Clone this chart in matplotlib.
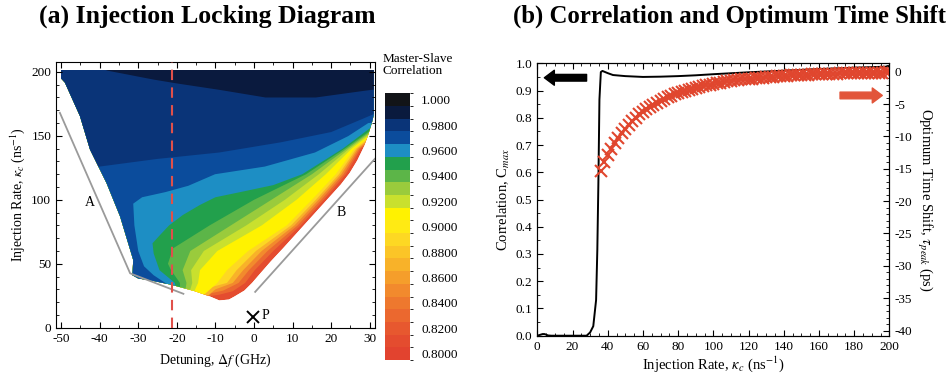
import matplotlib
matplotlib.use('Agg')
import matplotlib.pyplot as plt
from matplotlib.patches import Polygon
from matplotlib.colors import ListedColormap, BoundaryNorm
from matplotlib.cm import ScalarMappable
import matplotlib.ticker as mticker

plt.rcParams['font.family'] = ['Liberation Serif', 'DejaVu Serif']
plt.rcParams['mathtext.fontset'] = 'stix'
plt.rcParams['axes.unicode_minus'] = False

# ---------------- colour scale (master-slave correlation) ----------------
scale_values = [0.80, 0.81, 0.82, 0.83, 0.84, 0.85, 0.86, 0.87, 0.88, 0.89, 0.90,
                0.91, 0.92, 0.93, 0.94, 0.95, 0.96, 0.97, 0.98, 0.99, 1.00]
scale_colors = ['#e2432f', '#e44c2f', '#e7582f', '#eb682f', '#ee782e', '#f28a2d',
                '#f59e2b', '#f8b229', '#fbc527', '#fdd823', '#ffea14', '#fff200',
                '#c9e02e', '#9acb3c', '#5cb548', '#22a04c', '#1d8ec4', '#0b4c9c',
                '#0a3478', '#0a1a3e', '#121418']
cbar_ticks = [0.80, 0.82, 0.84, 0.86, 0.88, 0.90, 0.92, 0.94, 0.96, 0.98, 1.00]
cbar_labels = ['0.8000', '0.8200', '0.8400', '0.8600', '0.8800', '0.9000',
               '0.9200', '0.9400', '0.9600', '0.9800', '1.000']

# ---------------- panel (a): locking region (detuning GHz, kappa ns^-1) ----------------
lock_region = [(-50, 201.5), (31, 201.5), (31, 166), (30.6, 161), (29.6, 151), (28.4, 141),
               (26.8, 131), (24.8, 121), (22.5, 112), (19.5, 102), (16.5, 92), (13.5, 82),
               (10.5, 72), (7.5, 62), (4.4, 52), (1.5, 42), (-0.5, 35), (-2.5, 29),
               (-5, 24.5), (-6.5, 22), (-9, 21.3), (-11.5, 24.5), (-15.3, 28.5),
               (-21.3, 33.5), (-26, 36.5), (-30, 38.5), (-31.5, 41), (-31.3, 53),
               (-32.6, 66), (-34.7, 87), (-38.2, 113), (-42.5, 139.4), (-45.1, 165.5),
               (-49, 191.7), (-50, 195)]

# correlation value of each band, lowest first
band_values = [0.81, 0.83, 0.85, 0.87, 0.89, 0.91, 0.92, 0.93, 0.94, 0.95, 0.96, 0.97, 0.98, 0.99]

# lower edge of every band above the first one (from right side round to bottom / left)
band_edges = [
    [(40, 150), (31, 148), (27.7, 140), (23.8, 120), (18.1, 100), (12.1, 80), (5.0, 60),
     (0.2, 45), (-2.3, 35), (-5.5, 28.5), (-9, 25.8), (-12, 24.5), (-15, 15)],
    [(40, 151), (31, 149), (27.3, 140), (23.2, 120), (17.4, 100), (11.3, 80), (3.5, 60),
     (-1.3, 45), (-4, 35), (-8, 29), (-11, 27), (-15.5, 15)],
    [(40, 152), (31, 150), (26.9, 140), (22.6, 120), (16.7, 100), (10.5, 80), (2.0, 60),
     (-2.8, 45), (-5.5, 35), (-10, 30), (-16, 15)],
    [(40, 153), (31, 151), (26.5, 140), (22.0, 120), (16.0, 100), (9.6, 80), (0.5, 60),
     (-4.5, 45), (-7, 35), (-12, 31), (-16.5, 15)],
    [(40, 154), (31, 152), (26.0, 140), (21.2, 120), (15.0, 100), (8.5, 80), (-1.5, 60),
     (-7, 45), (-9.5, 35), (-17, 15)],
    [(40, 155), (31, 153), (25.3, 140), (18.6, 120), (11.0, 100), (2.0, 80), (-9.5, 60),
     (-14, 45), (-14.5, 35), (-17.5, 15)],
    [(40, 156), (31, 154), (24.7, 140), (16.8, 120), (8.0, 100), (-2.0, 80), (-13, 60),
     (-16.3, 45), (-16, 35), (-18, 15)],
    [(40, 157), (31, 155), (24.1, 140), (15.0, 120), (4.5, 100), (-6, 80), (-16.5, 60),
     (-18.5, 45), (-17.5, 35), (-18.5, 15)],
    [(40, 158), (31, 156), (23.5, 140), (13.5, 120), (0, 100), (-11.5, 80), (-21, 62),
     (-22.3, 50), (-21.5, 45), (-19.2, 35), (-19, 15)],
    [(40, 160), (31, 158), (29.6, 155), (23.0, 140), (12.5, 120), (5, 111.5), (-3.6, 106),
     (-10, 102), (-14, 96), (-18.5, 88), (-22, 80), (-24.5, 72), (-26.3, 66), (-26, 58),
     (-24.5, 45), (-20.5, 35), (-19.5, 15)],
    [(40, 163), (29.6, 160), (24.4, 149.8), (15.8, 137), (2.8, 126), (-10.1, 120), (-17, 111),
     (-23, 106), (-29, 102), (-31.3, 97), (-31, 80), (-30, 60), (-28.5, 48), (-26, 41),
     (-23.5, 36), (-21, 31), (-20.5, 15)],
    [(40, 168), (31, 167), (27.9, 163), (20, 153), (7, 145), (-9, 137), (-25, 132),
     (-40, 126), (-55, 120)],
    [(40, 187), (30.5, 186), (28, 185), (16, 180), (3, 180), (-9, 186), (-20, 191),
     (-26, 194), (-38, 201), (-45, 210)],
]

line_a = [(-50.3, 168), (-32.1, 42.5), (-18.3, 26.5)]
line_b = [(0.3, 28), (31.3, 132)]
dashed_detuning = -21.2
point_p = (-0.2, 8.6)

# ---------------- panel (b) ----------------
corr_x = [0, 2, 3, 4, 5, 6, 8, 10, 20, 28, 30, 31.8, 33.4, 34.1, 34.7, 35.3, 36.1, 37,
          40, 43, 50, 60, 70, 80, 90, 100, 120, 140, 160, 180, 200]
corr_y = [0.0, 0.004, 0.006, 0.006, 0.004, 0.001, 0.0, 0.0, 0.0, 0.0, 0.012, 0.035, 0.131,
          0.315, 0.561, 0.867, 0.968, 0.972, 0.964, 0.957, 0.953, 0.950, 0.951, 0.953,
          0.956, 0.960, 0.967, 0.973, 0.979, 0.984, 0.988]

shift_x = list(range(36, 201, 2))
shift_ps = [-15.4, -14.0, -12.9, -11.9, -11.0, -10.2, -9.5, -8.8, -8.2, -7.6,
            -7.1, -6.6, -6.2, -5.8, -5.4, -5.1, -4.8, -4.5, -4.2, -3.95,
            -3.7, -3.5, -3.3, -3.1, -2.95, -2.8, -2.65, -2.5, -2.35, -2.2,
            -2.1, -2.0, -1.9, -1.8, -1.7, -1.6, -1.5, -1.45, -1.35, -1.3,
            -1.2, -1.15, -1.1, -1.05, -1.0, -0.95, -0.9, -0.85, -0.8, -0.75,
            -0.72, -0.68, -0.65, -0.62, -0.58, -0.55, -0.52, -0.5, -0.47, -0.45,
            -0.42, -0.4, -0.38, -0.36, -0.34, -0.32, -0.3, -0.28, -0.27, -0.25,
            -0.24, -0.22, -0.21, -0.2, -0.18, -0.17, -0.16, -0.15, -0.14, -0.13,
            -0.12, -0.11, -0.1]

cmap = ListedColormap(scale_colors)
bounds = [v - 0.005 for v in scale_values] + [scale_values[-1] + 0.005]
norm = BoundaryNorm(bounds, cmap.N)

fig = plt.figure(figsize=(9.53, 3.78), dpi=100)

# ---------------- (a) ----------------
ax = fig.add_axes([0.0588, 0.1331, 0.3347, 0.7037])
lock_patch = Polygon(lock_region, closed=True, facecolor='none', edgecolor='none')
ax.add_patch(lock_patch)

for i, val in enumerate(band_values):
    if i == 0:
        pts = lock_region
    else:
        edge = band_edges[i - 1]
        x_end, y_end = edge[-1]
        pts = edge + [(-70, y_end), (-70, 240), (40, 240)]
    poly = Polygon(pts, closed=True, facecolor=cmap(norm(val)), edgecolor='none', zorder=1)
    ax.add_patch(poly)
    poly.set_clip_path(lock_patch)

ax.plot([p[0] for p in line_a], [p[1] for p in line_a], color='#9a9a9a', lw=1.3, zorder=2)
ax.plot([p[0] for p in line_b], [p[1] for p in line_b], color='#9a9a9a', lw=1.3, zorder=2)
ax.axvline(dashed_detuning, color='#e0504a', lw=1.5, dashes=(5, 3.5), zorder=3)
ax.plot(point_p[0], point_p[1], marker='x', color='black', ms=9, mew=1.4, zorder=3)
ax.text(point_p[0] + 2.2, point_p[1] + 1.2, 'P', fontsize=10, va='center', ha='left')
ax.text(-42.5, 97.6, 'A', fontsize=10, ha='center', va='center')
ax.text(22.7, 89.7, 'B', fontsize=10, ha='center', va='center')

ax.set_xlim(-51.3, 31.35)
ax.set_ylim(0, 208)
ax.xaxis.set_major_locator(mticker.MultipleLocator(10))
ax.xaxis.set_minor_locator(mticker.MultipleLocator(5))
ax.yaxis.set_major_locator(mticker.MultipleLocator(50))
ax.yaxis.set_minor_locator(mticker.MultipleLocator(10))
ax.tick_params(which='both', top=True, right=True, direction='in', labelsize=9.5)
ax.tick_params(which='major', length=4)
ax.tick_params(which='minor', length=2)
ax.set_xlabel('Detuning, $\\Delta f$ (GHz)', fontsize=10, labelpad=5)
ax.set_ylabel('Injection Rate, $\\kappa_c$ (ns$^{-1}$)', fontsize=10, labelpad=3)

cax = fig.add_axes([0.404, 0.0476, 0.0262, 0.7055])
cb = fig.colorbar(ScalarMappable(norm=norm, cmap=cmap), cax=cax, boundaries=bounds)
cb.outline.set_visible(False)
cb.set_ticks(cbar_ticks)
cb.set_ticklabels(cbar_labels)
cax.tick_params(length=0, labelsize=9.5, pad=8)
fig.text(383 / 953, 1 - 53 / 378, 'Master-Slave\nCorrelation', fontsize=9.5,
         ha='left', va='top', linespacing=1.0)

# ---------------- (b) ----------------
bx = fig.add_axes([0.5638, 0.1119, 0.3694, 0.7206])
bx.plot(corr_x, corr_y, color='black', lw=1.4, zorder=3)
bx.set_xlim(0, 200)
bx.set_ylim(0, 1.0)
bx.xaxis.set_major_locator(mticker.MultipleLocator(20))
bx.xaxis.set_minor_locator(mticker.MultipleLocator(5))
bx.yaxis.set_major_locator(mticker.MultipleLocator(0.1))
bx.yaxis.set_minor_locator(mticker.MultipleLocator(0.05))
bx.yaxis.set_major_formatter(mticker.FormatStrFormatter('%.1f'))
bx.tick_params(which='both', top=True, direction='in', labelsize=9.5)
bx.tick_params(which='major', length=4)
bx.tick_params(which='minor', length=2)
bx.set_xlabel('Injection Rate, $\\kappa_c$ (ns$^{-1}$)', fontsize=10.5, labelpad=1)
bx.set_ylabel('Correlation, C$_{max}$', fontsize=10.5, labelpad=3)

bx2 = bx.twinx()
bx2.plot(shift_x, shift_ps, linestyle='none', marker='x', ms=8, mew=1.5,
         color='#e0462e', zorder=2)
bx2.set_ylim(-40.8, 1.3)
bx2.yaxis.set_major_locator(mticker.MultipleLocator(5))
bx2.yaxis.set_minor_locator(mticker.MultipleLocator(1))
bx2.tick_params(which='both', direction='in', labelsize=9.5)
bx2.tick_params(which='major', length=4)
bx2.tick_params(which='minor', length=2)
bx2.set_ylabel('Optimum Time Shift, $\\tau_{peak}$ (ps)', fontsize=10.5,
               rotation=270, labelpad=16)

bx.annotate('', xy=(4, 0.947), xytext=(28, 0.947),
            arrowprops=dict(arrowstyle='simple,head_length=0.6,head_width=0.9,tail_width=0.4',
                            color='black', mutation_scale=12, shrinkA=0, shrinkB=0))
bx.annotate('', xy=(196, 0.882), xytext=(172, 0.882),
            arrowprops=dict(arrowstyle='simple,head_length=0.6,head_width=0.9,tail_width=0.4',
                            color='#e2553a', mutation_scale=12, shrinkA=0, shrinkB=0))

fig.text(207.5 / 953, 1 - 16 / 378, '(a) Injection Locking Diagram', fontsize=18.5,
         fontweight='bold', ha='center', va='center')
fig.text(730 / 953, 1 - 16 / 378, '(b) Correlation and Optimum Time Shift', fontsize=17.8,
         fontweight='bold', ha='center', va='center')

fig.savefig('out.png', dpi=100)
